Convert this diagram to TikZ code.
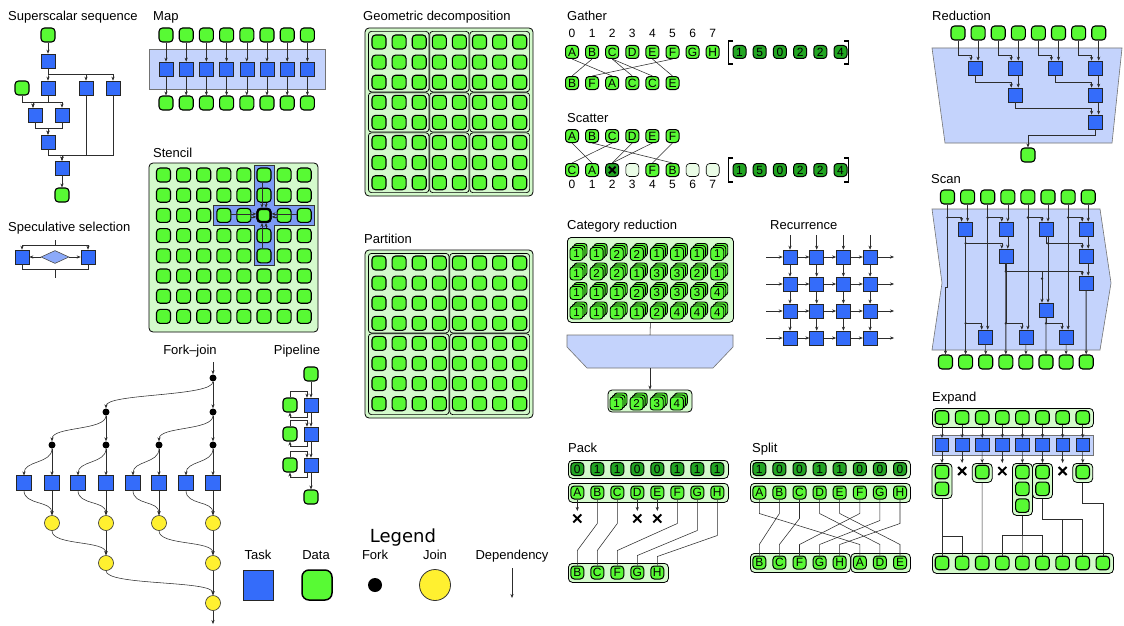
\documentclass[tikz,border=0pt]{standalone}
\usepackage{fontspec}
\setmainfont{Liberation Sans}
\newfontfamily\legfont{DejaVu Sans}
\usetikzlibrary{arrows.meta,shapes.geometric,calc}
\definecolor{dgreen}{RGB}{88,250,52}
\definecolor{lgreen}{RGB}{212,250,204}
\definecolor{fgreen}{RGB}{34,165,34}
\definecolor{pgreen}{RGB}{234,252,230}
\definecolor{tblue}{RGB}{52,108,250}
\definecolor{lblue}{RGB}{196,211,252}
\definecolor{mblue}{RGB}{125,155,245}
\definecolor{dblue}{RGB}{140,170,250}
\definecolor{jyellow}{RGB}{255,240,48}
\definecolor{lnc}{RGB}{45,45,45}
\newcommand\stk[4]{%
  \node[cnode] (#1b) at ({#2+4},{#3-4}) {};
  \node[cnode] (#1a) at ({#2+2},{#3-2}) {};
  \node[cnode] (#1) at (#2,#3) {#4};}
\newcommand\crossmk[1]{%
  \draw[line width=2pt] ($(#1)+(-4,-4)$) -- ($(#1)+(4,4)$)
    ($(#1)+(-4,4)$) -- ($(#1)+(4,-4)$);}
\begin{document}
\begin{tikzpicture}[x=1pt,y=-1pt,
  ttl/.style={font=\fontsize{13}{15}\selectfont, anchor=base west, inner sep=0pt},
  lbl/.style={font=\fontsize{13}{15}\selectfont, anchor=base, inner sep=0pt},
  num/.style={font=\fontsize{12}{12}\selectfont, inner sep=0pt},
  dnode/.style={draw=black, line width=1.1pt, fill=dgreen, rounded corners=3.5pt, minimum size=14pt, inner sep=0pt},
  lnode/.style={dnode, minimum size=13pt, line width=1pt, font=\fontsize{12}{12}\selectfont},
  fnode/.style={lnode, fill=fgreen},
  enode/.style={lnode, fill=pgreen, line width=0.6pt},
  cnode/.style={dnode, minimum size=13pt, line width=0.9pt, rounded corners=3pt, font=\fontsize{11.5}{11.5}\selectfont},
  tnode/.style={draw=black!85, line width=0.6pt, fill=tblue, minimum size=14pt, inner sep=0pt},
  gbox/.style={draw=black, line width=0.8pt, fill=lgreen, rounded corners=4pt, inner sep=0pt},
  bbox/.style={draw=black!55, line width=0.6pt, fill=lblue},
  arr/.style={draw=lnc, line width=0.55pt, -{Stealth[length=4pt,width=3.2pt]}},
  ln/.style={draw=lnc, line width=0.55pt},
  fk/.style={circle, fill=black, minimum size=7pt, inner sep=0pt},
  jn/.style={circle, draw=black!80, line width=0.6pt, fill=jyellow, minimum size=15pt, inner sep=0pt},
]
\fill[white] (0,0) rectangle (1124,626);
\useasboundingbox (0,0) rectangle (1124,626);

% ================= Superscalar sequence
\node[ttl] (tss) at (8,21) {Superscalar sequence};
\node[dnode] (s0) at (48,35) {};
\node[tnode] (s1) at (48,61) {};
\node[dnode] (sd) at (22,88) {};
\node[tnode] (s2) at (48,88) {};
\node[tnode] (s3) at (86,88) {};
\node[tnode] (s4) at (113,88) {};
\node[tnode] (s5) at (35,115) {};
\node[tnode] (s6) at (62,115) {};
\node[tnode] (s7) at (48,142) {};
\node[tnode] (s8) at (62,168) {};
\node[dnode] (s9) at (62,195) {};
\draw[arr] (s0) -- (s1);
\draw[arr] (s1.south) -- ++(0,6) -| (s2.north);
\draw[arr] (s1.south) -- ++(0,6) -| (s3.north);
\draw[arr] (s1.south) -- ++(0,6) -| (s4.north);
\draw[arr] (s2.south) -- ++(0,7) -| ([xshift=-2pt]s5.north);
\draw[arr] (s2.south) -- ++(0,7) -| (s6.north);
\draw[arr, line width=0.9pt] (sd.south) -- ++(0,6.5) -| ([xshift=-2pt]s5.north);
\draw[arr] (s5.south) -- ++(0,6) -| (s7.north);
\draw[arr] (s6.south) -- ++(0,6) -| (s7.north);
\draw[arr] (s7.south) -- ++(0,6) -| (s8.north);
\draw[arr] (s3.south) -- ++(0,60) -| (s8.north);
\draw[arr] (s4.south) -- ++(0,60) -| (s8.north);
\draw[arr] (s8) -- (s9);

% ================= Speculative selection
\node[ttl] (tsp) at (8,231) {Speculative selection};
\node[tnode] (p1) at (22,257) {};
\node[tnode] (p2) at (88,257) {};
\node[diamond, draw=black!70, line width=0.6pt, fill=dblue, minimum width=28pt, minimum height=13pt, inner sep=0pt] (pdia) at (55,257) {};
\coordinate (pin) at (55,240);
\coordinate (pout) at (55,278);
\draw[arr] (pin) -- ++(0,5) -| (p1.north);
\draw[arr] (pin) -- ++(0,5) -| (p2.north);
\draw[ln] (p1.south) -- ++(0,4.5) -| (pout);
\draw[ln] (p2.south) -- ++(0,4.5) -| (pout);
\draw[arr] (pdia.west) -- (p1.east);
\draw[arr] (pdia.east) -- (p2.west);

% ================= Map
\node[ttl] (tmap) at (153,21) {Map};
\draw[bbox] (149,49) rectangle (325,89);
\foreach \ii in {0,...,7} {
  \node[dnode] (mi\ii) at ({166+20.2*\ii},35) {};
  \node[tnode] (mt\ii) at ({166+20.2*\ii},69) {};
  \node[dnode] (mo\ii) at ({166+20.2*\ii},103) {};
  \draw[arr] (mi\ii) -- (mt\ii);
  \draw[arr] (mt\ii) -- (mo\ii);
}

% ================= Stencil
\node[ttl] (tst) at (153,157) {Stencil};
\draw[gbox] (149,163) rectangle (318,332);
\draw[draw=black!80, line width=0.8pt, fill=mblue] (254,165) -- (274,165) -- (274,205.4) -- (314.2,205.4) -- (314.2,225.4) -- (274,225.4) -- (274,265.8) -- (254,265.8) -- (254,225.4) -- (213.8,225.4) -- (213.8,205.4) -- (254,205.4) -- cycle;
\foreach \ii in {0,...,7} {\foreach \jj in {0,...,7} {
  \node[dnode] (st\ii\jj) at ({163.5+20.1*\ii},{175+20.2*\jj}) {};
}}
\node[dnode, line width=2.2pt, minimum size=13pt] (stc) at (st52) {};
\draw[arr] ([xshift=-2pt]st50.south) -- ([xshift=-2pt]stc.north);
\draw[arr] ([xshift=2pt]st51.south) -- ([xshift=2pt]stc.north);
\draw[arr] ([xshift=-2pt]st54.north) -- ([xshift=-2pt]stc.south);
\draw[arr] ([xshift=2pt]st53.north) -- ([xshift=2pt]stc.south);
\draw[arr] ([yshift=1.5pt]st32.east) -- ([yshift=1.5pt]stc.west);
\draw[arr] ([yshift=-1.5pt]st42.east) -- ([yshift=-1.5pt]stc.west);
\draw[arr] ([yshift=1.5pt]st72.west) -- ([yshift=1.5pt]stc.east);
\draw[arr] ([yshift=-1.5pt]st62.west) -- ([yshift=-1.5pt]stc.east);

% ================= Geometric decomposition
\node[ttl] (tgd) at (363,21) {Geometric decomposition};
\draw[gbox] (365,28) rectangle (533,196);
\foreach \xa/\xb in {368/429.25,429.25/469.45,469.45/530} {
  \foreach \ya/\yb in {31/92.25,92.25/132.45,132.45/193} {
    \draw[line width=0.7pt, rounded corners=3pt] (\xa+0.4,\ya+0.4) rectangle (\xb-0.4,\yb-0.4);
}}
\foreach \ii in {0,...,7} {\foreach \jj in {0,...,7} {
  \node[dnode] (gd\ii\jj) at ({379+20.1*\ii},{42+20.1*\jj}) {};
}}

% ================= Partition
\node[ttl] (tpa) at (364,243) {Partition};
\draw[gbox] (365,250) rectangle (533,418);
\foreach \xa/\xb in {368/449.35,449.35/530} {
  \foreach \ya/\yb in {253/333.35,333.35/415} {
    \draw[line width=0.7pt, rounded corners=3pt] (\xa+0.4,\ya+0.4) rectangle (\xb-0.4,\yb-0.4);
}}
\foreach \ii in {0,...,7} {\foreach \jj in {0,...,7} {
  \node[dnode] (pa\ii\jj) at ({379+20.1*\ii},{263+20.1*\jj}) {};
}}

% ================= Gather
\node[ttl] (tga) at (567,21) {Gather};
\foreach \ii/\lt in {0/A,1/B,2/C,3/D,4/E,5/F,6/G,7/H} {
  \node[num] (gi\ii) at ({572+20.1*\ii},33) {\ii};
  \node[lnode] (ga\ii) at ({572+20.1*\ii},52) {\lt};
}
\foreach \ii/\lt in {0/B,1/F,2/A,3/C,4/C,5/E} {
  \node[lnode] (gb\ii) at ({572+20.1*\ii},83) {\lt};
}
\foreach \ii/\vv in {0/1,1/5,2/0,3/2,4/2,5/4} {
  \node[fnode] (gv\ii) at ({739.5+20.2*\ii},52) {\vv};
}
\draw[line width=1.3pt] (733,41) -- (728.5,41) -- (728.5,64) -- (733,64);
\draw[line width=1.3pt] (844,41) -- (848.5,41) -- (848.5,64) -- (844,64);
\foreach \ua/\ub in {1/0,5/1,0/2,2/3,2/4,4/5} {
  \draw[ln] (ga\ua.south) -- (gb\ub.north);
}

% ================= Scatter
\node[ttl] (tsc) at (567,122) {Scatter};
\foreach \ii/\lt in {0/A,1/B,2/C,3/D,4/E,5/F} {
  \node[lnode] (sa\ii) at ({572+20.1*\ii},136) {\lt};
}
\node[lnode] (sb0) at (572,170) {C};
\node[lnode] (sb1) at (592.1,170) {A};
\node[fnode] (sb2) at (612.2,170) {};
\draw[line width=2pt] ($(sb2)+(-3.3,-3.3)$) -- ($(sb2)+(3.3,3.3)$) ($(sb2)+(-3.3,3.3)$) -- ($(sb2)+(3.3,-3.3)$);
\node[enode] (sb3) at (632.3,170) {};
\node[lnode] (sb4) at (652.4,170) {F};
\node[lnode] (sb5) at (672.5,170) {B};
\node[enode] (sb6) at (692.6,170) {};
\node[enode] (sb7) at (712.7,170) {};
\foreach \ii in {0,...,7} {
  \node[num] (si\ii) at ({572+20.1*\ii},184) {\ii};
}
\foreach \ii/\vv in {0/1,1/5,2/0,3/2,4/2,5/4} {
  \node[fnode] (sv\ii) at ({739.5+20.2*\ii},170) {\vv};
}
\draw[line width=1.3pt] (733,158) -- (728.5,158) -- (728.5,182) -- (733,182);
\draw[line width=1.3pt] (844,158) -- (848.5,158) -- (848.5,182) -- (844,182);
\foreach \ua/\ub in {0/1,1/5,2/0,3/2,4/2,5/4} {
  \draw[ln] (sa\ua.south) -- (sb\ub.north);
}

% ================= Category reduction
\node[ttl] (tcr) at (567,229) {Category reduction};
\node[gbox, minimum width=166pt, minimum height=85pt, anchor=north west] (cbox) at (567,237) {};
\foreach \rr/\row in {0/{1,1,2,2,1,1,1,1},1/{1,2,2,1,3,3,2,1},2/{1,1,1,2,3,3,3,4},3/{1,1,1,1,2,4,4,4}} {
  \foreach \vv [count=\cc from 0] in \row {
    \stk{cr\rr\cc}{576.5+20.1*\cc}{254+19.5*\rr}{\vv}
  }
}
\draw[draw=black!55, fill=lblue, line width=0.6pt] (567,335) -- (733,335) -- (733,347) -- (713,368) -- (587,368) -- (567,347) -- cycle;
\coordinate (ctop) at (650,335);
\coordinate (cbot) at (650,368);
\draw[ln] (cbox.south) -- (ctop);
\node[gbox, minimum width=84pt, minimum height=22pt] (cout) at (650,401) {};
\draw[arr] (cbot) -- (cout.north);
\foreach \vv [count=\cc from 0] in {1,2,3,4} {
  \stk{co\cc}{616.5+20.1*\cc}{403.5}{\vv}
}

% ================= Recurrence
\node[ttl] (trc) at (770,229) {Recurrence};
\foreach \ii in {0,...,3} {\foreach \jj in {0,...,3} {
  \node[tnode] (r\ii\jj) at ({790+26.7*\ii},{257+27*\jj}) {};
}}
\foreach \ii in {0,...,3} {
  \coordinate (rtop\ii) at ({790+26.7*\ii},235);
  \draw[arr] (rtop\ii) -- (r\ii0);
  \draw[arr] (r\ii0) -- (r\ii1);
  \draw[arr] (r\ii1) -- (r\ii2);
  \draw[arr] (r\ii2) -- (r\ii3);
}
\foreach \jj/\lwid in {0/1pt,1/0.55pt,2/0.55pt,3/1pt} {
  \coordinate (rlft\jj) at (766,{257+27*\jj});
  \coordinate (rrgt\jj) at (894,{257+27*\jj});
  \draw[arr, line width=\lwid] (rlft\jj) -- (r0\jj);
  \draw[arr] (r0\jj) -- (r1\jj);
  \draw[arr] (r1\jj) -- (r2\jj);
  \draw[arr] (r2\jj) -- (r3\jj);
  \draw[arr] (r3\jj) -- (rrgt\jj);
}

% ================= Reduction
\node[ttl] (trd) at (932,21) {Reduction};
\draw[bbox] (932,48) -- (1122,48) -- (1112,143) -- (945,143) -- cycle;
\foreach \ii in {0,...,7} {
  \node[dnode] (rd\ii) at ({958+20.1*\ii},33) {};
}
\node[tnode] (ra0) at (975,68) {};
\node[tnode] (ra1) at (1015.2,68) {};
\node[tnode] (ra2) at (1055.4,68) {};
\node[tnode] (ra3) at (1095.6,68) {};
\node[tnode] (rb0) at (1015.2,95) {};
\node[tnode] (rb1) at (1095.6,95) {};
\node[tnode] (rc0) at (1095.6,122) {};
\node[dnode] (rout) at (1028,155) {};
\foreach \kk/\ua/\ub in {0/0/1,1/2/3,2/4/5,3/6/7} {
  \draw[arr] (rd\ua.south) -- ++(0,15) -| ([xshift=-4pt]ra\kk.north);
  \draw[arr] (rd\ub.south) -- (rd\ub.south |- ra\kk.north);
}
\draw[arr] (ra0.south) -- ++(0,7) -| ([xshift=-4pt]rb0.north);
\draw[arr, line width=0.9pt] ([xshift=3pt]ra1.south) -- ([xshift=3pt]rb0.north);
\draw[arr] (ra2.south) -- ++(0,7) -| ([xshift=-4pt]rb1.north);
\draw[arr] ([xshift=3pt]ra3.south) -- ([xshift=3pt]rb1.north);
\draw[arr, line width=0.9pt] (rb0.south) -- ++(0,6) -| ([xshift=-4pt]rc0.north);
\draw[arr] ([xshift=3pt]rb1.south) -- ([xshift=3pt]rc0.north);
\draw[arr] (rc0.south) -- ++(0,6) -| (rout.north);

% ================= Scan
\node[ttl] (tsn) at (931,183) {Scan};
\draw[bbox] (932,209) -- (1100,209) -- (1111,283) -- (1100,350) -- (932,350) -- (942,283) -- cycle;
\foreach \ii in {0,...,7} {
  \node[dnode] (sc\ii) at ({947.5+20.1*\ii},197) {};
  \node[dnode] (so\ii) at ({945.5+20.1*\ii},362) {};
}
\node[tnode] (q10) at (965.6,229) {};
\node[tnode] (q11) at (1005.8,229) {};
\node[tnode] (q12) at (1046,229) {};
\node[tnode] (q13) at (1086.2,229) {};
\node[tnode] (q20) at (1005.8,256) {};
\node[tnode] (q21) at (1086.2,256) {};
\node[tnode] (q30) at (1086.2,283) {};
\node[tnode] (q40) at (1046,310) {};
\node[tnode] (q50) at (985.7,337) {};
\node[tnode] (q51) at (1025.9,337) {};
\node[tnode] (q52) at (1066.1,337) {};
\foreach \kk/\ua/\ub in {0/0/1,1/2/3,2/4/5,3/6/7} {
  \draw[arr] (sc\ua.south) -- ++(0,13) -| ([xshift=-4pt]q1\kk.north);
  \fill[lnc] ($(sc\ua.south)+(0,13)$) circle (1.3);
  \draw[arr] (sc\ub.south) -- (sc\ub.south |- q1\kk.north);
}
\draw[arr] (sc0.south) -- ++(0,83) -| (so0.north);
\draw[arr] (sc2.south) -- (sc2.south |- q50.north);
\draw[arr] (sc4.south) -- (sc4.south |- q51.north);
\draw[arr] (sc6.south) -- (sc6.south |- q52.north);
\draw[arr] (q10.south) -- (so1.north);
\draw[arr] (q10.south) -- ++(0,7) -| ([xshift=-4pt]q20.north);
\draw[arr] (q10.south) -- ++(0,87) -| ([xshift=-4pt]q50.north);
\fill[lnc] ($(q10.south)+(0,7)$) circle (1.3);
\fill[lnc] ($(q10.south)+(0,87)$) circle (1.3);
\draw[arr] ([xshift=2pt]q11.south) -- ([xshift=2pt]q20.north);
\draw[arr, line width=1pt] (q20.south) -- (so3.north);
\draw[arr, line width=1pt] (q20.south) -- ++(0,8) -| ([xshift=-4pt]q30.north);
\draw[arr] (q20.south) -- ++(0,8) -| ([xshift=-4pt]q40.north);
\draw[arr] (q20.south) -- ++(0,60) -| ([xshift=-4pt]q51.north);
\fill[lnc] ($(q20.south)+(0,8)$) circle (1.3);
\fill[lnc] ($(q20.south)+(0,60)$) circle (1.3);
\fill[lnc] ($(q40.north)+(-4,-24)$) circle (1.3);
\draw[arr] (q12.south) -- ++(0,7) -| ([xshift=-4pt]q21.north);
\draw[arr] ([xshift=2pt]q12.south) -- ([xshift=2pt]q40.north);
\fill[lnc] ($(q12.south)+(2,7)$) circle (1.3);
\draw[arr] (q40.south) -- (so5.north);
\draw[arr] (q40.south) -- ++(0,6) -| ([xshift=-4pt]q52.north);
\fill[lnc] ($(q40.south)+(0,6)$) circle (1.3);
\draw[arr, line width=1pt] ([xshift=2pt]q13.south) -- ([xshift=2pt]q21.north);
\draw[arr, line width=1pt] ([xshift=2pt]q21.south) -- ([xshift=2pt]q30.north);
\draw[arr, line width=1pt] (q30.south) -- (so7.north);
\draw[arr] (q50) -- (so2);
\draw[arr] (q51) -- (so4);
\draw[arr] (q52) -- (so6);

% ================= Expand
\node[ttl] (tex) at (932,401) {Expand};
\node[gbox, minimum width=161pt, minimum height=19pt, anchor=north west] (ebox) at (932,408) {};
\draw[bbox] (932,435) rectangle (1093,455);
\foreach \ii in {0,...,7} {
  \node[dnode, minimum size=13.5pt] (ex\ii) at ({942+20.1*\ii},417.5) {};
  \node[tnode, minimum size=13.5pt] (et\ii) at ({942+20.1*\ii},445) {};
  \draw[arr] (ex\ii) -- (et\ii);
}
\node[gbox, minimum width=20pt, minimum height=35pt, anchor=north] (g0) at (942,463) {};
\node[dnode, minimum size=13.5pt] (g0a) at (942,472) {};
\node[dnode, minimum size=13.5pt] (g0b) at (942,488.8) {};
\node[gbox, minimum width=20pt, minimum height=19pt, anchor=north] (g2) at (982.2,463) {};
\node[dnode, minimum size=13.5pt] (g2a) at (982.2,472) {};
\node[gbox, minimum width=20pt, minimum height=52pt, anchor=north] (g4) at (1022.4,463) {};
\node[dnode, minimum size=13.5pt] (g4a) at (1022.4,472) {};
\node[dnode, minimum size=13.5pt] (g4b) at (1022.4,488.8) {};
\node[dnode, minimum size=13.5pt] (g4c) at (1022.4,505.6) {};
\node[gbox, minimum width=20pt, minimum height=35pt, anchor=north] (g5) at (1042.5,463) {};
\node[dnode, minimum size=13.5pt] (g5a) at (1042.5,472) {};
\node[dnode, minimum size=13.5pt] (g5b) at (1042.5,488.8) {};
\node[gbox, minimum width=20pt, minimum height=19pt, anchor=north] (g7) at (1082.7,463) {};
\node[dnode, minimum size=13.5pt] (g7a) at (1082.7,472) {};
\foreach \ii in {1,3,6} {
  \coordinate (ez\ii) at ({942+20.1*\ii},463);
  \coordinate (ec\ii) at ({942+20.1*\ii},471);
  \draw[arr] (et\ii) -- (ez\ii);
  \crossmk{ec\ii}
}
\draw[arr] (et0) -- (g0.north);
\draw[arr] (et2) -- (g2.north);
\draw[arr] (et4) -- (g4.north);
\draw[arr] (et5) -- (g5.north);
\draw[arr] (et7) -- (g7.north);
\node[gbox, minimum width=181pt, minimum height=20pt, anchor=north west] (eobox) at (932,553) {};
\foreach \ii in {0,...,8} {
  \node[dnode, minimum size=13.5pt] (eo\ii) at ({942+20.1*\ii},563) {};
}
\draw[ln] (g0.south) -- (eo0.north);
\draw[ln] (g0.south) -- ++(0,37) -| (eo1.north);
\draw[ln] (g2.south) -- (eo2.north);
\draw[ln] (g4.south) -- (eo4.north);
\draw[ln] (g4.south) -- ++(0,19) -| (eo3.north);
\draw[ln] (g4.south) -- ++(0,19) -| (eo5.north);
\draw[ln] (g5.south) -- ++(0,20) -| (eo6.north);
\draw[ln] (g5.south) -- ++(0,20) -| (eo7.north);
\draw[ln] (g7.south) -- ++(0,20) -| (eo8.north);

% ================= Pack
\node[ttl] (tpk) at (568,452) {Pack};
\node[gbox, minimum width=160pt, minimum height=18pt, anchor=north west] (pfb) at (568,460) {};
\node[gbox, minimum width=160pt, minimum height=19pt, anchor=north west] (pdb) at (568,483) {};
\foreach \ii/\vv/\lt in {0/0/A,1/1/B,2/1/C,3/0/D,4/0/E,5/1/F,6/1/G,7/1/H} {
  \node[fnode] (pf\ii) at ({577.3+20*\ii},469) {\vv};
  \node[lnode] (pd\ii) at ({577.3+20*\ii},492.5) {\lt};
}
\foreach \ii in {0,3,4} {
  \coordinate (pz\ii) at ({577.3+20*\ii},511);
  \coordinate (pc\ii) at ({577.3+20*\ii},518.5);
  \draw[arr] (pd\ii) -- (pz\ii);
  \crossmk{pc\ii}
}
\node[gbox, minimum width=100pt, minimum height=19pt, anchor=north west] (pob) at (568,563) {};
\foreach \ii/\lt in {0/B,1/C,2/F,3/G,4/H} {
  \node[lnode] (po\ii) at ({577.3+20*\ii},572.5) {\lt};
}
\foreach \ua/\ub/\da/\db in {1/0/24/15,2/1/24/15,5/2/24/15,6/3/31/10,7/4/36/9} {
  \draw[ln] (pd\ua.south) -- ++(0,\da) -- ($(po\ub.north)+(0,-\db)$) -- (po\ub.north);
}

% ================= Split
\node[ttl] (tsl) at (752,452) {Split};
\node[gbox, minimum width=160pt, minimum height=18pt, anchor=north west] (sfb) at (750,460) {};
\node[gbox, minimum width=160pt, minimum height=19pt, anchor=north west] (sdb) at (750,483) {};
\foreach \ii/\vv/\lt in {0/1/A,1/0/B,2/0/C,3/1/D,4/1/E,5/0/F,6/0/G,7/0/H} {
  \node[fnode] (sf\ii) at ({759.3+20.1*\ii},469) {\vv};
  \node[lnode] (sd\ii) at ({759.3+20.1*\ii},492.5) {\lt};
}
\node[gbox, minimum width=100pt, minimum height=19pt, anchor=north west] (sob1) at (750,553) {};
\node[gbox, minimum width=59.5pt, minimum height=19pt, anchor=north west] (sob2) at (850.5,553) {};
\foreach \ii/\lt in {0/B,1/C,2/F,3/G,4/H,5/A,6/D,7/E} {
  \node[lnode] (sx\ii) at ({759.3+20.1*\ii},562.5) {\lt};
}
\foreach \ua/\ub/\da in {0/5/14,1/0/14,2/1/19,3/6/14,4/7/14,5/2/14,6/3/21,7/4/24} {
  \draw[ln] (sd\ua.south) -- ++(0,\da) -- ($(sx\ub.north)+(0,-11)$) -- (sx\ub.north);
}

% ================= Fork-join
\node[lbl] (tfj) at (190,354) {Fork–join};
\coordinate (fin) at (213,362);
\coordinate (fout) at (213,624);
\node[fk] (f0) at (213,378) {};
\node[fk] (f1) at (106,412) {};
\node[fk] (f2) at (213,412) {};
\node[fk] (f3) at (52,445) {};
\node[fk] (f4) at (106,445) {};
\node[fk] (f5) at (159,445) {};
\node[fk] (f6) at (213,445) {};
\foreach \ii/\xx in {0/24,1/52,2/78,3/106,4/133,5/159,6/186,7/213} {
  \node[tnode, minimum size=14.5pt] (ft\ii) at (\xx,483) {};
}
\node[jn] (j0) at (52,523) {};
\node[jn] (j1) at (106,523) {};
\node[jn] (j2) at (159,523) {};
\node[jn] (j3) at (213,523) {};
\node[jn] (k0) at (106,563) {};
\node[jn] (k1) at (213,563) {};
\node[jn] (m0) at (213,603) {};
\draw[arr] (fin) -- (f0);
\draw[arr] (f0) -- (f2);
\draw[arr] (f2) -- (f6);
\draw[arr] (f6) -- (ft7);
\draw[arr] (ft7) -- (j3);
\draw[arr] (j3) -- (k1);
\draw[arr] (k1) -- (m0);
\draw[arr] (m0) -- (fout);
\draw[arr, line width=1pt] (f1) -- (f4);
\draw[arr, line width=1pt] (f4) -- (ft3);
\draw[arr, line width=1pt] (ft3) -- (j1);
\draw[arr, line width=1pt] (j1) -- (k0);
\draw[arr] (f3) -- (ft1);
\draw[arr] (ft1) -- (j0);
\draw[arr] (f5) -- (ft5);
\draw[arr] (ft5) -- (j2);
\foreach \ua/\ub in {f0/f1,f1/f3,f2/f5,f3/ft0,f4/ft2,f5/ft4,f6/ft6,ft0/j0,ft2/j1,ft4/j2,ft6/j3,j0/k0,j2/k1,k0/m0} {
  \draw[arr] (\ua.south) .. controls +(0,15) and +(0,-15) .. (\ub.north);
}

% ================= Pipeline
\node[lbl] (tpl) at (297,354) {Pipeline};
\node[dnode] (pp0) at (311,374) {};
\node[tnode] (pt1) at (311,405) {};
\node[tnode] (pt2) at (311,434) {};
\node[tnode] (pt3) at (311,465) {};
\node[dnode] (pl1) at (290,405) {};
\node[dnode] (pl2) at (290,434) {};
\node[dnode] (pl3) at (290,465) {};
\node[dnode] (pp4) at (311,497) {};
\draw[arr] (pp0) -- (pt1);
\draw[arr] (pt1) -- (pt2);
\draw[arr] (pt2) -- (pt3);
\draw[arr] (pt3) -- (pp4);
\foreach \kk in {1,2,3} {
  \draw[arr] (pl\kk.north) -- ++(0,-6) -| ([xshift=-4pt]pt\kk.north);
  \draw[arr] ([xshift=-4pt]pt\kk.south) -- ++(0,5) -| (pl\kk.south);
}

% ================= Legend
\node[anchor=base, inner sep=0pt, font=\legfont\fontsize{18}{20}\selectfont] (tlg) at (403,542) {Legend};
\node[lbl] (ltask) at (258,559) {Task};
\node[lbl] (ldata) at (316,559) {Data};
\node[lbl] (lfork) at (375,559) {Fork};
\node[lbl] (ljoin) at (435,559) {Join};
\node[lbl] (ldep) at (512,559) {Dependency};
\node[tnode, minimum size=30pt, line width=0.8pt] (lgt) at (258,585) {};
\node[dnode, minimum size=30pt, rounded corners=7pt, line width=1.5pt] (lgd) at (317,585) {};
\node[fk, minimum size=14pt] (lgf) at (375,585) {};
\node[jn, minimum size=31pt, line width=0.8pt] (lgj) at (435,585) {};
\coordinate (ldt) at (512,568);
\coordinate (ldb) at (512,598);
\draw[arr] (ldt) -- (ldb);
\end{tikzpicture}
\end{document}
